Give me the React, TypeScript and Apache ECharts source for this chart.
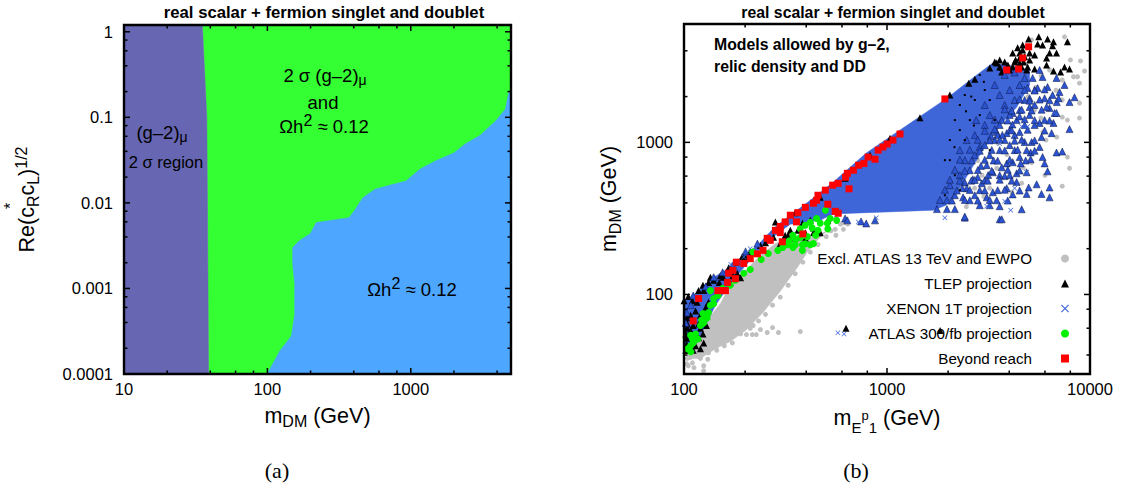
import React, { useEffect, useRef } from "react";
import * as echarts from "echarts";

const titleText = "real scalar + fermion singlet and doublet";
const leftXLabels = [10, 100, 1000];
const leftYLabels = [1, 0.1, 0.01, 0.001, 0.0001];
const leftXMinor = [20, 40, 60, 80, 200, 400, 600, 800, 2000, 4000];
const leftYMinor = [0.8, 0.6, 0.4, 0.2, 0.08, 0.06, 0.04, 0.02, 0.008, 0.006, 0.004, 0.002, 0.0008, 0.0006, 0.0004, 0.0002];
const rightXLabels = [100, 1000, 10000];
const rightYLabels = [100, 1000];
const rightXMinor = [200, 400, 600, 800, 2000, 4000, 6000, 8000];
const rightYMinor = [40, 60, 80, 200, 400, 600, 800, 2000, 4000];

const g2Region = [[10, 1.2], [35.2, 1.2], [37.8, 0.1], [38.2, 0.01], [38.9, 0.0001], [10, 0.0001]];
const overlapRegion = [[35.2, 1.2], [5000, 1.2], [5000, 0.0001], [38.9, 0.0001], [38.2, 0.01], [37.8, 0.1]];
const relicRegion = [
  [5000, 0.2], [4824, 0.194], [4563, 0.124], [3908, 0.0905], [3047, 0.0616], [2374, 0.0483], [2010, 0.0386],
  [1482, 0.0309], [1155, 0.0247], [925, 0.018], [701, 0.016], [562, 0.0144], [463, 0.0115], [403, 0.00804],
  [371, 0.00672], [219, 0.00588], [199, 0.00437], [166, 0.00359], [150, 0.003], [150, 0.00192], [155, 0.00112],
  [155, 0.000499], [147, 0.000279], [122, 0.000186], [101, 0.000104], [99, 0.0001], [5000, 0.0001],
];

const excludedCloud = [
  [103, 38], [120.5, 38], [143, 44], [169, 49], [201, 58], [245, 76], [298, 105], [361, 150], [405, 190], [454, 227],
  [507, 262], [433, 240], [385, 227], [334, 237], [282, 216], [238, 181], [201, 144], [169, 115], [151, 87], [120.5, 60], [107.7, 46],
];
const excludedPoints = [
  [105, 34], [103, 35], [110, 35.5], [125, 34], [131, 37.5], [120, 38.5], [107, 38.5], [112, 33], [125, 31.5],
  [203, 54.5], [217, 54.5], [227, 54.5], [238, 58.8], [257, 56.2], [273, 60.6], [292, 56.2], [374, 57], [207, 62.5], [219, 62.5], [190, 59.7],
  [120.5, 38], [132, 41.4], [145, 43], [158, 46], [173, 48], [190, 55], [212, 60], [233, 67], [252, 74], [273, 85], [298, 96], [326, 115], [353, 137],
  [385, 163], [419, 190], [457, 213], [502, 240], [556, 268], [615, 296], [114, 41], [107.7, 39], [104, 38], [103, 46],
  [8877, 1813], [8877, 1444], [7300, 1465], [7740, 1401], [6860, 1083], [6070, 1035], [5860, 1168], [5730, 1444], [5330, 1631],
  [7740, 800], [7927, 676], [7300, 515], [6000, 608], [5157, 736], [4607, 539], [4115, 471], [2460, 378], [3207, 500], [2700, 500],
  [2940, 608], [3470, 676], [3510, 992], [2370, 736], [4607, 1035], [7490, 4938], [7740, 4504], [8010, 3482], [8980, 3430], [9400, 2947],
  [8680, 2700], [8290, 2700], [8877, 2450], [7300, 2571], [6322, 2992], [5730, 2740], [5157, 4716], [4000, 1630], [3300, 1030], [2800, 760],
  [5400, 2300], [4950, 2000], [4300, 2480], [6800, 2200], [7300, 1900], [6450, 1350], [3900, 830], [4700, 680], [3000, 440],
  [610, 268], [560, 245], [530, 262], [590, 290], [470, 300], [640, 290],
];
const solidCloud = [
  [100.5, 91], [111, 98.5], [140, 130], [155, 140], [197, 181], [230, 210], [276, 272], [334, 332], [419, 416], [544, 548], [790, 850],
  [1159, 1204], [1973, 1950], [2645, 2650], [3320, 3325], [4021, 3200], [5042, 2992], [5042, 2383], [4350, 1700], [3700, 1350], [3300, 1100], [2900, 850],
  [2550, 640], [2250, 485], [1950, 386], [1690, 358], [588, 340], [525, 332], [469, 307], [334, 290], [282, 245], [238, 200], [201, 155], [169, 118], [143, 85], [120.5, 54], [107.7, 41], [100.5, 41],
];
const overlapPoints = [
  [7927, 1222], [6840, 858], [7300, 870], [5975, 727], [5840, 800], [6180, 645], [5460, 530], [6322, 505], [5770, 458], [6322, 435], [4607, 363],
  [4875, 636], [4503, 800], [4555, 727], [5100, 858], [5100, 775], [4160, 740], [3890, 727], [4350, 626], [3675, 685], [3800, 600], [4350, 548],
  [3890, 500], [4160, 455], [4985, 505], [4875, 458], [3470, 416], [3591, 380], [3207, 386], [3100, 435], [3320, 470], [3510, 485], [2864, 485],
  [2930, 538], [3320, 636], [2645, 572], [2417, 545], [2417, 320], [3591, 312], [1973, 364], [2159, 364], [1762, 364], [1973, 416], [2370, 435],
  [2470, 500], [3100, 708], [2864, 932], [3470, 1168], [4021, 959], [4875, 889], [5646, 932], [5157, 1005], [4765, 1005], [6470, 1150], [5646, 1340],
  [6610, 1340], [5770, 1083], [4503, 1168], [3890, 1150], [3510, 1116], [4350, 1401], [5042, 1512], [6322, 1680], [6860, 1840], [7927, 1840],
  [6690, 1560], [6110, 1710], [5042, 1710], [4160, 1560], [3675, 1401],
  [7491, 2383], [6840, 2650], [8388, 1980], [7079, 2140], [7000, 1950], [6540, 2048], [6180, 2310], [5840, 2690], [5646, 2992], [5520, 2275],
  [5975, 1950], [5336, 1760], [4930, 2275], [5042, 1950], [5220, 2650], [6840, 1560],
  [2707, 1116], [3031, 1299], [2284, 889], [2417, 764], [2558, 656], [2707, 824], [3031, 959], [3207, 824], [3591, 889], [3800, 1035], [4255, 1116],
  [3591, 1299], [4021, 1512], [4503, 1631], [4765, 1898], [4255, 1898], [3800, 1760], [3207, 1512], [4021, 2209], [4503, 2383], [3591, 2048],
  [2284, 608], [2040, 523], [2159, 449], [2558, 416], [2864, 386], [2707, 449], [3031, 564], [3591, 608], [4021, 608], [4255, 889], [3394, 1035],
  [5336, 1299], [5975, 1401], [4765, 1299], [4021, 1204], [3031, 1760], [3394, 2383], [3800, 2774], [4255, 2880], [4765, 2650], [5336, 2209],
  [2470, 1035], [2750, 1400], [3250, 1100], [2600, 560], [2900, 700], [3350, 760], [3700, 1120], [4150, 1310], [4500, 1480], [3150, 610], [2800, 590], [2350, 500],
  [4765, 2209], [5336, 2190], [5975, 2230], [4503, 1920], [5042, 1880], [5646, 1910], [6322, 1890], [3800, 1650], [4115, 1620], [4607, 1640], [5157, 1620], [5775, 1640],
  [3394, 1410], [3933, 1390], [4765, 1420], [5336, 1400], [6322, 1390], [3031, 1190], [3394, 1220], [4115, 1200], [4930, 1210], [5975, 1195],
  [2801, 1040], [3207, 1030], [3591, 1045], [4255, 1025], [4607, 1040], [5336, 1030], [2558, 895], [2864, 880], [3281, 892], [3800, 885], [4403, 895], [5336, 880],
  [2284, 770], [2617, 760], [3031, 768], [3510, 758], [4021, 770], [4820, 760], [2159, 660], [2417, 650], [2801, 658], [3281, 650], [3933, 660], [4503, 652],
  [2040, 568], [2284, 560], [2707, 566], [3136, 560], [3591, 568], [4115, 560], [1928, 488], [2209, 482], [2558, 487], [3031, 483], [3800, 488], [4503, 482],
  [1822, 418], [2087, 414], [2417, 418], [2801, 414], [3207, 418], [3933, 414],
  [111, 98.5], [140, 130], [155, 140], [108, 85], [103, 76], [102, 65], [128, 113], [174, 155], [201, 192], [230, 216],
  [622, 316], [638, 307], [745, 302], [790, 293], [873, 307], [2417, 325], [3675, 312],
];
const tlepPoints = [
  [5590, 4938], [4985, 4790], [6180, 4790], [6610, 4580], [7740, 4580], [5520, 4440], [5840, 4372], [6540, 4310], [4660, 4372], [5042, 3870],
  [5336, 3756], [4660, 4052], [6322, 3870], [6840, 3870], [6110, 3590], [4160, 3870], [4503, 3870], [4765, 3650], [6110, 3228], [7491, 3130],
  [7927, 3035], [6610, 2947], [7160, 2900], [3591, 3482], [3470, 3325], [3800, 3380], [3591, 3130], [3940, 3228], [4255, 3380], [4503, 3325],
  [4930, 3130], [5336, 3035], [4021, 2992], [4875, 2992], [2530, 2450], [3394, 3380], [3675, 2900], [4503, 3590], [4160, 3130], [4400, 4190],
  [4300, 3482], [4710, 3380], [4607, 3130], [5042, 3482], [3207, 3080],
  [132, 120], [140, 124], [149, 120], [151, 133], [156, 130], [125, 106], [116, 89], [132, 89], [114, 78], [128, 82], [104, 64], [102, 55],
  [120.5, 60], [118, 64], [104, 60], [102, 43], [111, 43], [105, 43], [118, 52], [124, 55], [114, 46], [103, 47],
  [434, 274], [396, 255], [434, 255], [364, 264], [326, 245], [315, 245], [383, 294], [252, 219], [238, 210], [183, 138], [174, 133], [169, 120],
  [190, 129], [419, 307], [334, 264], [311, 234], [212, 190], [201, 175], [276, 238], [298, 216], [469, 255], [511, 307], [353, 234], [396, 234],
  [100, 91], [105, 97], [110, 91], [118, 106], [124, 115], [135, 130], [166, 150], [179, 163], [194, 178], [107.7, 73], [103, 70], [120.5, 73],
  [111, 62.5], [129, 62.5], [103, 51.5], [125, 48], [120.5, 44], [107.7, 58],
  [282, 300], [353, 345], [469, 435], [622, 580], [825, 824], [1035, 1065], [1453, 1450], [2040, 2048], [2707, 2600],
  [628, 60], [1827, 58],
];
const tlepSpeckles = [
  [1928, 764], [2040, 1035], [2159, 1401], [2284, 1760], [2417, 2048], [2558, 1401], [2707, 1898], [2159, 608], [2284, 485], [1928, 449], [2417, 1035],
  [2864, 1512], [3031, 2209], [3207, 1898], [3394, 1401], [2040, 764], [2284, 1204],
  [2558, 2383], [2864, 2774], [3591, 2992], [3207, 889], [2150, 930], [2450, 1600], [2680, 1290], [2600, 2000], [3000, 2500],
];
const xenonPoints = [
  [573, 56], [614, 55], [1928, 320], [3100, 380], [3800, 410], [4070, 358], [4255, 500], [4875, 636], [3591, 980], [4607, 1270], [4930, 1270],
  [6690, 1560], [3940, 1401], [170, 158], [230, 210], [212, 200], [197, 176], [722, 300], [560, 330], [885, 320],
];
const atlasPoints = [
  [497, 358], [450, 316], [419, 298], [525, 316], [565, 307], [508, 294], [469, 294], [428, 274], [396, 285], [374, 270], [344, 245], [374, 237],
  [326, 212], [353, 212], [383, 212], [419, 212], [383, 195], [344, 204], [434, 216], [511, 270], [457, 264], [260, 186], [218, 190], [307, 204],
  [212, 146], [179, 124], [135, 106], [140, 94], [135, 85], [125, 65], [124, 75], [132, 76], [140, 87], [147, 98.5], [155, 110], [169, 115],
  [130, 70], [120.5, 62.5], [114, 55], [110, 51], [107.7, 46], [104, 44], [117, 51], [111, 48], [107.7, 54], [197, 138],
  [355, 230], [405, 240], [395, 215], [330, 225], [445, 245], [290, 195], [240, 170], [128, 70], [122, 68], [113, 50], [108, 42],
];
const beyondPoints = [
  [4985, 4250], [4660, 3590], [4450, 3035], [3890, 2992], [1928, 1930], [1159, 1135], [1070, 1035], [1002, 975], [955, 932], [905, 889], [873, 775],
  [807, 800], [770, 727], [725, 708], [683, 656], [638, 626], [625, 590], [650, 495], [575, 538], [540, 523], [497, 485], [457, 449], [450, 416],
  [434, 398], [511, 392], [556, 352], [575, 342], [396, 374], [364, 345], [334, 332], [358, 300], [315, 300], [298, 280], [282, 264], [257, 234],
  [385, 250], [298, 255], [305, 222], [266, 227], [245, 195], [230, 185], [212, 172], [197, 160], [181, 163], [174, 144], [166, 138], [179, 127],
  [164, 120], [160, 106], [147, 106], [118, 94], [111, 67], [155, 106],
];

const FONT = "Liberation Sans";
const PURPLE = "#6666b2";
const GREEN = "#33ff33";
const SKY = "#4da6ff";
const GREY = "#c0c0c0";
const ROYAL = "#3e66d8";
const TRIANGLE_BLUE = "#2c54d2";
const X_PATH = "path://M1,0 L5,4 L9,0 L10,1 L6,5 L10,9 L9,10 L5,6 L1,10 L0,9 L4,5 L0,1 Z";

const rich = {
  sup: { fontFamily: FONT, fontSize: 16, padding: [0, 0, 12, 0], lineHeight: 17 },
  greek: { fontFamily: FONT, fontSize: 14, padding: [10, 0, 0, 0], lineHeight: 15 },
};

function fmt(v: number) {
  const exponent = Math.round(Math.log10(v));
  return exponent >= 0 ? String(Math.pow(10, exponent)) : Math.pow(10, exponent).toFixed(-exponent);
}

function polygonSeries(name: string, points: number[][], color: string, gridIndex: number, z: number) {
  return {
    type: "custom", name, coordinateSystem: "cartesian2d", xAxisIndex: gridIndex, yAxisIndex: gridIndex,
    silent: true, z, data: [points[0]],
    renderItem: (_p: any, api: any) => ({
      type: "polygon",
      shape: { points: points.map((p) => api.coord(p)) },
      style: { fill: color, stroke: color, lineWidth: 0.5 },
    }),
  };
}

function frameSeries(name: string, gridIndex: number, xr: number[], yr: number[], xMajor: number[], xMinor: number[], yMajor: number[], yMinor: number[]) {
  return {
    type: "custom", name, coordinateSystem: "cartesian2d", xAxisIndex: gridIndex, yAxisIndex: gridIndex,
    silent: true, z: 30, data: [[xr[0], yr[0]]],
    renderItem: (_p: any, api: any) => {
      const a = api.coord([xr[0], yr[0]]);
      const b = api.coord([xr[1], yr[1]]);
      const children: any[] = [];
      const line = (x1: number, y1: number, x2: number, y2: number) =>
        children.push({ type: "line", shape: { x1, y1, x2, y2 }, style: { stroke: "#000", lineWidth: 1.5 } });
      const xt = (v: number, len: number) => {
        const x = api.coord([v, yr[0]])[0];
        line(x, a[1], x, a[1] - len);
        line(x, b[1], x, b[1] + len);
      };
      const yt = (v: number, len: number) => {
        const y = api.coord([xr[0], v])[1];
        line(a[0], y, a[0] + len, y);
        line(b[0], y, b[0] - len, y);
      };
      xMajor.forEach((v) => xt(v, 6));
      xMinor.forEach((v) => xt(v, 3.5));
      yMajor.forEach((v) => yt(v, 6));
      yMinor.forEach((v) => yt(v, 3.5));
      children.push({
        type: "rect",
        shape: { x: a[0], y: b[1], width: b[0] - a[0], height: a[1] - b[1] },
        style: { fill: "none", stroke: "#000", lineWidth: 2.4 },
      });
      return { type: "group", children };
    },
  };
}

function scatter(name: string, data: number[][], symbol: string, size: number, color: string, z: number, border?: string) {
  return {
    type: "scatter", name, xAxisIndex: 1, yAxisIndex: 1, data, symbol, symbolSize: size, z, silent: true,
    itemStyle: { color, opacity: 1, borderColor: border ?? color, borderWidth: border ? 0.5 : 0 },
  };
}

function note(x: number, y: number, text: string, opts: any = {}) {
  return {
    type: "text", x, y, silent: true, z: 40, rotation: opts.rotation ?? 0,
    style: {
      text, rich, align: opts.align ?? "center", verticalAlign: "middle",
      fontFamily: opts.fontFamily ?? FONT, fontSize: opts.fontSize ?? 18.5, fontWeight: opts.fontWeight ?? "normal", fill: "#000",
    },
  };
}

function axis(gridIndex: number, min: number, max: number, values: number[], name: string, nameGap: number, margin: number) {
  return {
    type: "log", logBase: 10, gridIndex, min, max, name, nameLocation: "middle", nameGap,
    nameTextStyle: { fontFamily: FONT, fontSize: 21.5, color: "#000", rich: {
      sub: { fontFamily: FONT, fontSize: 16, padding: [12, 0, 0, 0], lineHeight: 17 },
      sup: { fontFamily: FONT, fontSize: 16, padding: [0, 0, 12, 0], lineHeight: 17 },
      sub2: { fontFamily: FONT, fontSize: 13, padding: [0, 0, 6, 0], lineHeight: 14 },
      sub3: { fontFamily: FONT, fontSize: 15, padding: [18, 0, 0, 0], lineHeight: 16 },
    } },
    axisLine: { show: false }, axisTick: { show: false }, splitLine: { show: false }, minorTick: { show: false },
    axisLabel: { customValues: values, formatter: (v: number) => fmt(v), fontFamily: FONT, fontSize: 16.5, color: "#000", margin, hideOverlap: false },
  };
}

export default function App() {
  const ref = useRef<HTMLDivElement>(null);
  useEffect(() => {
    const chart = echarts.init(ref.current!, null, { renderer: "svg" });
    chart.setOption({
      animation: false,
      backgroundColor: "#fff",
      title: [
        { text: titleText, left: 319, top: -1, textAlign: "center", textStyle: { fontFamily: FONT, fontSize: 16.7, fontWeight: "bold", color: "#000" } },
        { text: titleText, left: 888, top: -1, textAlign: "center", textStyle: { fontFamily: FONT, fontSize: 15.8, fontWeight: "bold", color: "#000" } },
      ],
      grid: [
        { left: 124, top: 25, width: 387, height: 349, show: false },
        { left: 684, top: 24, width: 406, height: 350, show: false },
      ],
      xAxis: [
        axis(0, 10, 5000, leftXLabels, "m{sub|DM} (GeV)", 30, 6),
        axis(1, 100, 10000, rightXLabels, "m{sub3|E}{sub2|p}{sub3|1} (GeV)", 25, 6),
      ],
      yAxis: [
        axis(0, 0.0001, 1.2, leftYLabels, "Re(c{sub|R}c{sub|L}){sup|1/2}", 86, 11),
        axis(1, 30, 6000, rightYLabels, "m{sub|DM} (GeV)", 64, 11),
      ],
      legend: {
        orient: "vertical", align: "right", right: 49, top: 246, itemGap: 10, itemWidth: 8, itemHeight: 8, selectedMode: false,
        backgroundColor: "transparent", z: 25,
        textStyle: { fontFamily: FONT, fontSize: 15.2, color: "#000", padding: [0, 24, 0, 0] },
        data: ["Excl. ATLAS 13 TeV and EWPO", "TLEP projection", "XENON 1T projection", "ATLAS 300/fb projection", "Beyond reach"],
      },
      series: [
        polygonSeries("(g-2) 2 sigma region", g2Region, PURPLE, 0, 2),
        polygonSeries("2 sigma (g-2) and relic density", overlapRegion, GREEN, 0, 1),
        polygonSeries("Relic density region", relicRegion, SKY, 0, 3),
        frameSeries("Frame (a)", 0, [10, 5000], [0.0001, 1.2], leftXLabels, leftXMinor, leftYLabels, leftYMinor),
        polygonSeries("Excluded cloud", excludedCloud, GREY, 1, 2),
        scatter("Excl. ATLAS 13 TeV and EWPO", excludedPoints, "circle", 5, GREY, 3),
        polygonSeries("Allowed cloud", solidCloud, ROYAL, 1, 4),
        scatter("TLEP projection", tlepPoints, "triangle", 7, "#000", 5),
        scatter("TLEP and XENON 1T overlap", overlapPoints, "triangle", 7, TRIANGLE_BLUE, 6, "#0a1440"),
        scatter("TLEP dense speckles", tlepSpeckles, "rect", 2, "#000", 6),
        scatter("XENON 1T projection", xenonPoints, X_PATH, 5, ROYAL, 7),
        scatter("ATLAS 300/fb projection", atlasPoints, "circle", 7, "#00f000", 8),
        scatter("Beyond reach", beyondPoints, "rect", 7, "#ff0000", 9),
        frameSeries("Frame (b)", 1, [100, 10000], [30, 6000], rightXLabels, rightXMinor, rightYLabels, rightYMinor),
      ],
      graphic: {
        elements: [
          note(325, 75, "2 σ (g–2){greek|μ}"),
          note(323, 102, "and"),
          note(324, 126, "Ωh{sup|2} ≈ 0.12"),
          note(162, 132, "(g–2){greek|μ}"),
          note(166, 162, "2 σ region", { fontSize: 16.5 }),
          note(412, 289, "Ωh{sup|2} ≈ 0.12"),
          note(714, 44, "Models allowed by g–2,", { align: "left", fontSize: 15.8, fontWeight: "bold" }),
          note(714, 66, "relic density and DD", { align: "left", fontSize: 15.8, fontWeight: "bold" }),
          note(277, 470, "(a)", { fontFamily: "Liberation Serif", fontSize: 22 }),
          note(856, 470, "(b)", { fontFamily: "Liberation Serif", fontSize: 22 }),
          note(10, 206, "*", { fontSize: 16, rotation: Math.PI / 2 }),
        ],
      },
    });
    return () => chart.dispose();
  }, []);
  return <div ref={ref} style={{ position: "fixed", left: 0, top: 0, width: 1123, height: 489, background: "#fff" }} />;
}
